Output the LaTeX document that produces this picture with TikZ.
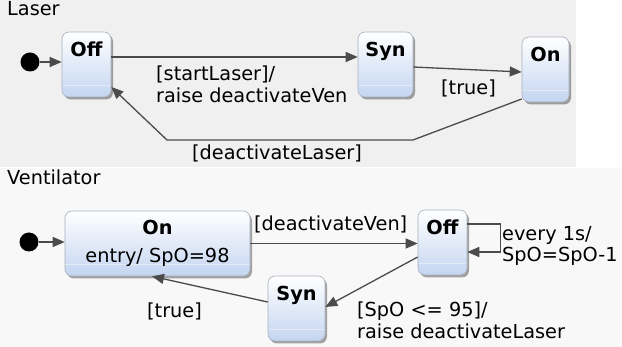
\documentclass[tikz,border=0pt]{standalone}
\usepackage{fontspec}
\setmainfont{DejaVu Sans}
\usetikzlibrary{arrows.meta, positioning, shadows, calc}
\definecolor{lasergray}{RGB}{240,240,240}
\definecolor{ventgray}{RGB}{248,248,248}
\definecolor{stateblue}{RGB}{196,213,241}
\definecolor{stateedge}{RGB}{168,176,190}
\definecolor{stateline}{RGB}{226,234,246}
\definecolor{transgray}{RGB}{75,75,75}

\begin{document}
\begin{tikzpicture}[x=1pt, y=-1pt,
  font=\fontsize{19.3}{21.5}\selectfont,
  state/.style={rectangle, rounded corners=7pt, draw=stateedge, line width=0.6pt,
    top color=white, bottom color=stateblue, inner sep=4pt, minimum height=65pt,
    drop shadow={shadow xshift=2pt, shadow yshift=-2.5pt, fill=black, opacity=0.35},
    path picture={\draw[stateline, line width=1pt]
      ([yshift=11pt]path picture bounding box.south west) --
      ([yshift=11pt]path picture bounding box.south east);}},
  head/.style={state, font=\fontsize{19.3}{21.5}\selectfont\bfseries,
    text height=21pt, text depth=36pt},
  init/.style={circle, fill=black, inner sep=0pt, minimum size=19pt},
  trans/.style={draw=transgray, line width=1.3pt, -{Triangle[length=12pt, width=10pt]}},
  lbl/.style={inner sep=0pt, align=left}]
  \fill[lasergray] (0,0) rectangle (576,167);
  \fill[ventgray] (0,168) rectangle (622,347);
  \useasboundingbox (0,0) rectangle (622,347);

  \node[anchor=base west, inner sep=0pt] (laser) at (7,16) {Laser};
  \node[init] (dotL) at (30,62) {};
  \node[head, minimum width=49pt] (offL) at (86.5,64.5) {Off};
  \node[head, minimum width=55pt] (synL) at (385.5,64.5) {Syn};
  \node[head, minimum width=47pt] (onL) at (545.5,69.5) {On};
  \draw[trans] (dotL) -- ([yshift=2.5pt]offL.west);
  \draw[trans] ([yshift=7.5pt]offL.east) -- ([yshift=7.5pt]synL.west);
  \draw[trans] ([yshift=-2.5pt]synL.east) -- ([yshift=-2.5pt]onL.west);
  \draw[trans] ([yshift=-29.5pt]onL.west) -- (413,140) -- (167,140) -- ([yshift=-22.5pt]offL.east);
  \node[lbl, anchor=north west] (startL) at (156,66) {[startLaser]/\\raise deactivateVen};
  \node[lbl, anchor=north west] (trueL) at (441,80) {[true]};
  \node[lbl, anchor=north west] (deactL) at (192,145) {[deactivateLaser]};

  \node[anchor=base west, inner sep=0pt] (vent) at (7,185) {Ventilator};
  \node[init] (dotV) at (29,242) {};
  \node[state, minimum width=185pt, align=center] (onV) at (157.5,243.5) {\textbf{On}\\[6.5pt]entry/ SpO=98};
  \node[head, minimum width=49pt] (offV) at (442.5,242.5) {Off};
  \node[head, minimum width=57pt] (synV) at (296.5,308.5) {Syn};
  \draw[trans] (dotV) -- ([yshift=1.5pt]onV.west);
  \draw[trans] (onV.east) -- (onV.east -| offV.west);
  \draw[trans] ([yshift=18.5pt]offV.east) -- ++(33,0) |- ([yshift=-9.5pt]offV.east);
  \draw[trans] ([yshift=-14.5pt]offV.west) -- ([yshift=1.5pt]synV.east);
  \draw[trans] ([yshift=6.5pt]synV.west) -- ([xshift=-5.5pt]onV.south);
  \node[lbl, anchor=north west] (deactV) at (254,216) {[deactivateVen]};
  \node[lbl, anchor=north west] (everyV) at (502,226) {every 1s/\\SpO=SpO-1};
  \node[lbl, anchor=north west] (spoV) at (357,302) {[SpO <= 95]/\\raise deactivateLaser};
  \node[lbl, anchor=north west] (trueV) at (147,303) {[true]};
\end{tikzpicture}
\end{document}
